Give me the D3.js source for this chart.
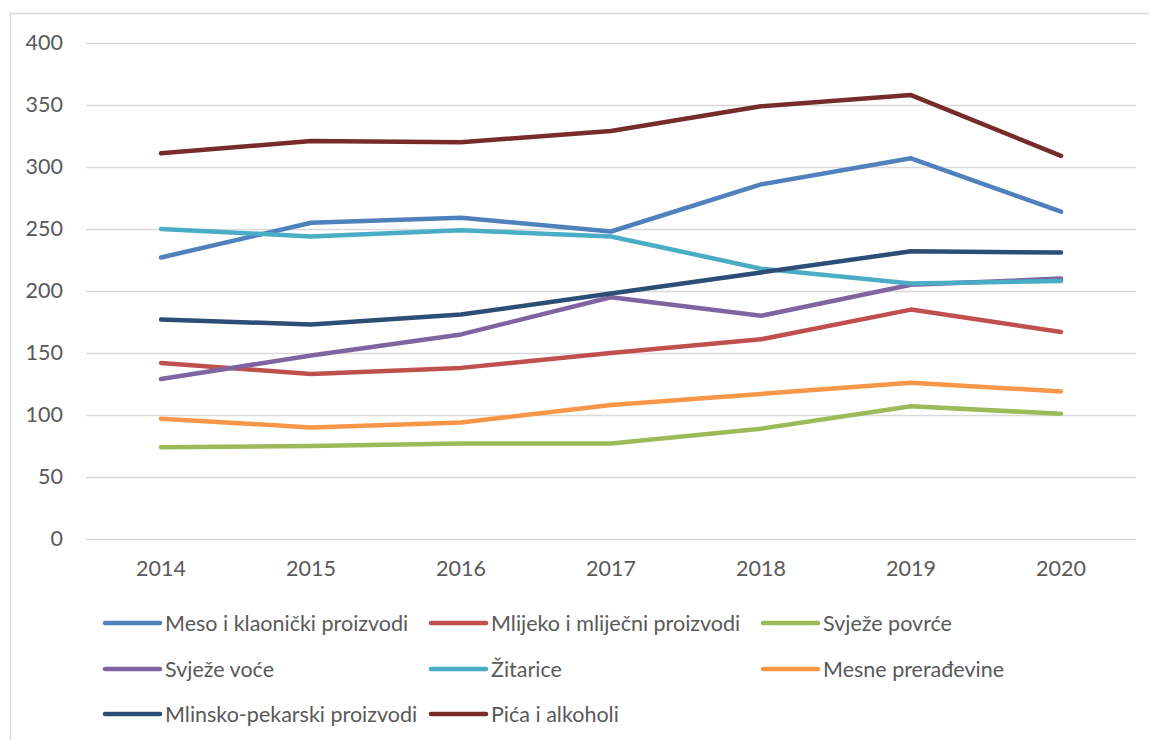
<!DOCTYPE html>
<html>
<head>
<meta charset="utf-8">
<script src="https://cdn.jsdelivr.net/npm/d3@7"></script>
<style>
  body { margin: 0; background: #fff; }
  text { font-family: Lato, "Open Sans", sans-serif; fill: #595959; }
</style>
</head>
<body>
<div class="chart"></div>
<script>
// data
const years = ["2014", "2015", "2016", "2017", "2018", "2019", "2020"];
const yTicks = [0, 50, 100, 150, 200, 250, 300, 350, 400];

const seriesNames = [
  "Meso i klaonički proizvodi",
  "Mlijeko i mliječni proizvodi",
  "Svježe povrće",
  "Svježe voće",
  "Žitarice",
  "Mesne prerađevine",
  "Mlinsko-pekarski proizvodi",
  "Pića i alkoholi"
];

const meso      = [227, 255, 259, 248, 286, 307, 264];
const mlijeko   = [142, 133, 138, 150, 161, 185, 167];
const povrce    = [74, 75, 77, 77, 89, 107, 101];
const voce      = [129, 148, 165, 195, 180, 205, 210];
const zitarice  = [250, 244, 249, 244, 218, 206, 208];
const mesne     = [97, 90, 94, 108, 117, 126, 119];
const mlinsko   = [177, 173, 181, 198, 215, 232, 231];
const pica      = [311, 321, 320, 329, 349, 358, 309];

const seriesValues = [meso, mlijeko, povrce, voce, zitarice, mesne, mlinsko, pica];
const colors = ["#4F81BD", "#C0504D", "#9BBB59", "#8064A2", "#4BACC6", "#F79646", "#2C4D75", "#772C2A"];

const series = seriesNames.map((name, i) => ({name: name, values: seriesValues[i], color: colors[i]}));

let svgWidth = 1149;
let svgHeight = 740;
const margin = {top: 43, right: 13, bottom: 201, left: 86};
let chartWidth = svgWidth - margin.left - margin.right;
let chartHeight = svgHeight - margin.top - margin.bottom;
const fontSize = 21.5;

let svg = d3.select(".chart")
  .append("svg")
  .attr("width", svgWidth)
  .attr("height", svgHeight);

// outer frame of the chart area
svg.append("rect")
  .attr("x", 10.5).attr("y", 13.5)
  .attr("width", 1160).attr("height", 760)
  .attr("fill", "none")
  .attr("stroke", "#D9D9D9")
  .attr("stroke-width", 1.5);

let chart = svg.append("g")
  .attr("transform", `translate(${margin.left},${margin.top})`);

let xScale = d3.scaleBand()
  .domain(years)
  .range([0, chartWidth]);

let yScale = d3.scaleLinear()
  .domain([0, 400])
  .range([chartHeight, 0]);

// gridlines + y labels
let leftAxis = d3.axisLeft(yScale)
  .tickValues(yTicks)
  .tickSize(-chartWidth)
  .tickPadding(23);

chart.append("g")
  .call(leftAxis)
  .call(g => g.select(".domain").remove())
  .call(g => g.selectAll(".tick line").attr("stroke", "#D9D9D9").attr("stroke-width", 1.5))
  .call(g => g.selectAll(".tick text").attr("font-size", fontSize).attr("fill", "#595959").style("font-family", "Lato, sans-serif"));

let bottomAxis = d3.axisBottom(xScale)
  .tickSize(0)
  .tickPadding(22);

chart.append("g")
  .attr("transform", `translate(0,${chartHeight})`)
  .call(bottomAxis)
  .call(g => g.select(".domain").remove())
  .call(g => g.selectAll(".tick text").attr("font-size", fontSize).attr("fill", "#595959").style("font-family", "Lato, sans-serif"));

let line = d3.line()
  .x((d, i) => xScale(years[i]) + xScale.bandwidth() / 2)
  .y(d => yScale(d));

chart.selectAll("path.series")
  .data(series)
  .enter().append("path")
  .attr("class", "series")
  .attr("d", d => line(d.values))
  .attr("fill", "none")
  .attr("stroke", d => d.color)
  .attr("stroke-width", 4.5)
  .attr("stroke-linecap", "round")
  .attr("stroke-linejoin", "round");

// legend, 3 per row
const legendCols = [105, 431, 763];
const legendRows = [623, 669, 714];

let legend = svg.append("g");
let items = legend.selectAll("g")
  .data(series)
  .enter().append("g")
  .attr("transform", (d, i) => `translate(${legendCols[i % 3]},${legendRows[Math.floor(i / 3)]})`);

items.append("line")
  .attr("x1", 0).attr("x2", 55)
  .attr("y1", 0).attr("y2", 0)
  .attr("stroke", d => d.color)
  .attr("stroke-width", 4.5)
  .attr("stroke-linecap", "round");

items.append("text")
  .attr("x", 60)
  .attr("y", 0)
  .attr("dy", "0.35em")
  .attr("font-size", fontSize)
  .text(d => d.name);
</script>
</body>
</html>
